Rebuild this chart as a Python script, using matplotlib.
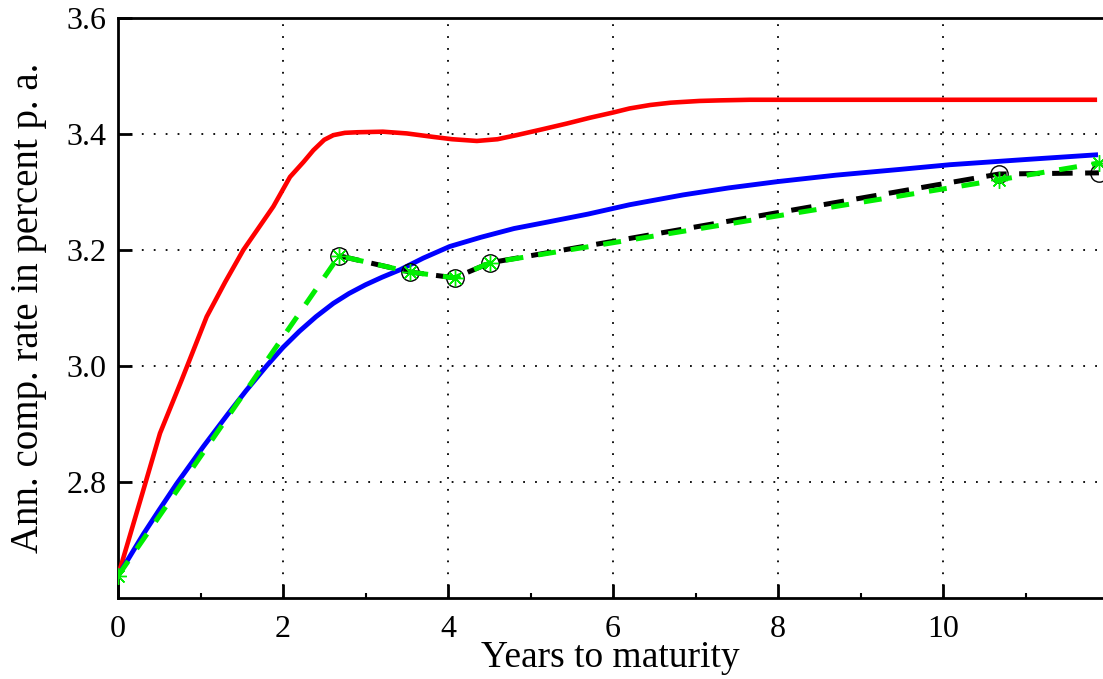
import matplotlib
matplotlib.use("Agg")
import matplotlib.pyplot as plt
from matplotlib.ticker import MultipleLocator

plt.rcParams["font.family"] = ["Liberation Serif", "DejaVu Serif"]

# fitted curves
red_x = [0, 0.307, 0.509, 0.772, 1.075, 1.3, 1.519, 1.883, 2.085, 2.25, 2.368, 2.5, 2.61,
         2.75, 2.9, 3.21, 3.5, 3.82, 4.05, 4.35, 4.6, 4.83, 5.14, 5.44, 5.72, 6.0, 6.2,
         6.45, 6.7, 7.05, 7.3, 7.66, 11.84]
red_y = [2.638, 2.786, 2.884, 2.976, 3.085, 3.145, 3.200, 3.275, 3.326, 3.352, 3.372, 3.390,
         3.398, 3.402, 3.403, 3.404, 3.401, 3.395, 3.391, 3.388, 3.391, 3.398, 3.408, 3.418,
         3.428, 3.437, 3.444, 3.450, 3.454, 3.457, 3.458, 3.459, 3.459]

blue_x = [0, 0.307, 0.5, 0.711, 1.034, 1.337, 1.55, 1.80, 2.0, 2.2, 2.4, 2.61, 2.8, 3.0,
          3.2, 3.42, 3.7, 4.02, 4.4, 4.8, 5.2, 5.7, 6.2, 6.85, 7.4, 8.0, 8.7, 9.48, 10.08,
          11.0, 11.85]
blue_y = [2.638, 2.710, 2.752, 2.797, 2.861, 2.918, 2.957, 3.000, 3.032, 3.060, 3.085, 3.108,
          3.125, 3.140, 3.153, 3.166, 3.186, 3.206, 3.222, 3.237, 3.248, 3.262, 3.278, 3.295,
          3.307, 3.318, 3.329, 3.339, 3.347, 3.356, 3.364]

# observed yields
obs_x = [2.68, 3.54, 4.08, 4.51, 10.68, 11.89]
obs_y = [3.190, 3.162, 3.152, 3.178, 3.331, 3.333]

# linear interpolation of observations
lin_x = [0, 2.68, 3.54, 4.08, 4.51, 10.68, 11.89]
lin_y = [2.638, 3.190, 3.162, 3.152, 3.178, 3.321, 3.350]

x_ticks = [0, 2, 4, 6, 8, 10]
y_ticks = [2.8, 3.0, 3.2, 3.4, 3.6]

fig = plt.figure(figsize=(11.03, 6.79), dpi=100)
ax = fig.add_axes([118 / 1103, 81 / 679, 985 / 1103, 580 / 679])

ax.plot(red_x, red_y, color="#ff0000", lw=3.3, solid_joinstyle="round", zorder=3)
ax.plot(blue_x, blue_y, color="#0000ff", lw=3.5, solid_joinstyle="round", zorder=3)
ax.plot(obs_x, obs_y, color="black", lw=3.6, dashes=(4.1, 2.5), dash_capstyle="butt",
        marker="o", ms=12.5, mfc="none", mec="black", mew=1.0, zorder=4)
ax.plot(lin_x, lin_y, color="#00ee00", lw=3.6, dashes=(3.6, 3.0), dash_capstyle="butt",
        zorder=5)
ax.plot(lin_x, lin_y, ls="none", marker=(8, 2, 0), ms=12, mec="#00ee00", mew=1.0, zorder=6)

ax.set_xlim(0, 985 / 82.5)
ax.set_ylim(2.6, 3.6)
ax.set_xticks(x_ticks)
ax.set_yticks(y_ticks)
ax.set_yticklabels([f"{v:.1f}" for v in y_ticks])
ax.xaxis.set_minor_locator(MultipleLocator(1))

ax.grid(True, which="major", color="black", lw=1.3, linestyle=(0, (1, 5.6)))
ax.spines["right"].set_visible(False)
for s in ["left", "top", "bottom"]:
    ax.spines[s].set_linewidth(2.0)

ax.tick_params(which="major", direction="in", length=10, width=2.0, labelsize=23,
               top=False, right=False)
ax.tick_params(which="minor", direction="in", length=3.5, width=1.5, top=False)
ax.tick_params(axis="x", which="major", pad=12)
ax.tick_params(axis="y", which="major", pad=8)

ax.set_xlabel("Years to maturity", fontsize=27, labelpad=-2)
ax.set_ylabel("Ann. comp. rate in percent p. a.", fontsize=28, labelpad=14)

fig.savefig("out.png", dpi=100)
